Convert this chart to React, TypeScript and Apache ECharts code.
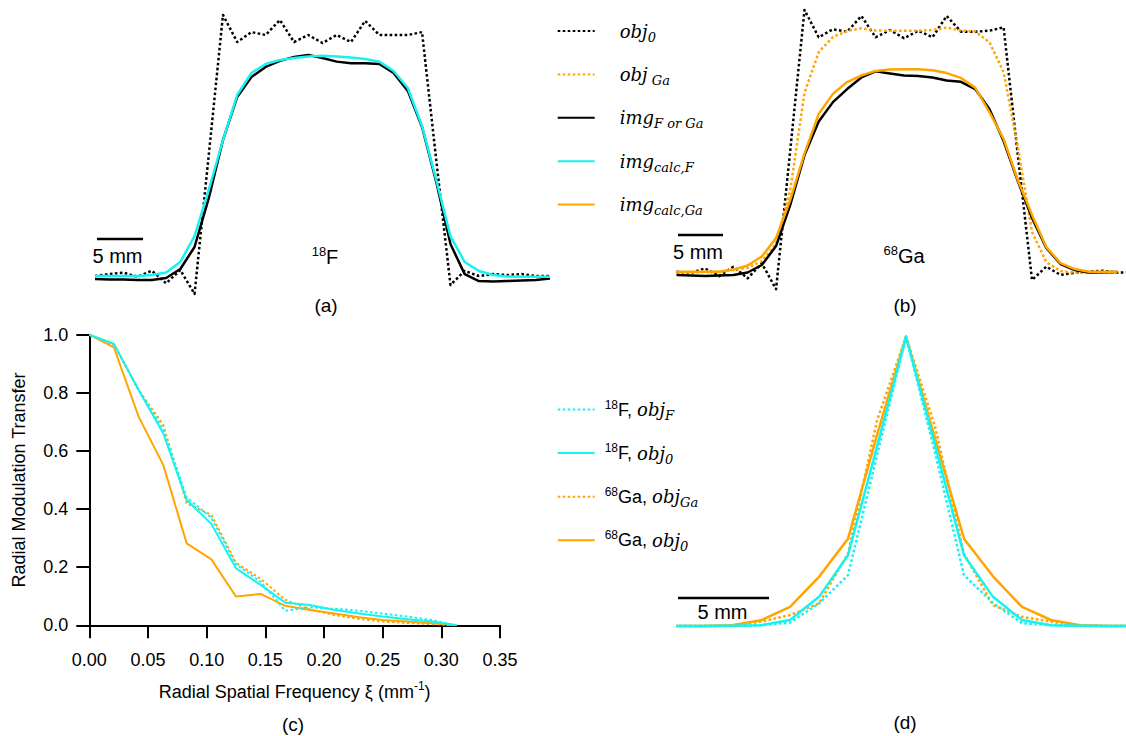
import React, { useEffect, useRef } from "react";
import * as echarts from "echarts";

// ---- Line profiles across the phantom, one value per voxel (panels a, b) ----
const profileObj0F = [0.004, 0.012, 0.018, 0.001, 0.026, -0.026, 0.029, -0.07, 0.504, 1.083, 0.971, 1.012, 1.0, 1.062, 0.971, 1.0, 0.967, 1.0, 0.971, 1.058, 1.0, 1.0, 1.0, 1.012, 0.483, -0.033, 0.025, 0.004, 0.012, 0.008, 0.012, 0.004, 0.004];
const profileImgF = [-0.008, -0.01, -0.01, -0.012, -0.012, -0.004, 0.033, 0.124, 0.326, 0.566, 0.744, 0.826, 0.868, 0.893, 0.909, 0.917, 0.905, 0.89, 0.883, 0.883, 0.88, 0.843, 0.769, 0.62, 0.393, 0.136, 0.012, -0.017, -0.019, -0.017, -0.014, -0.012, -0.006];
const profileCalcF = [0.004, 0.004, 0.004, 0.004, 0.008, 0.019, 0.062, 0.169, 0.36, 0.566, 0.752, 0.843, 0.88, 0.897, 0.905, 0.911, 0.914, 0.911, 0.907, 0.901, 0.89, 0.851, 0.781, 0.624, 0.401, 0.169, 0.062, 0.025, 0.008, 0.002, 0.001, 0.001, 0.001];

const profileObj0Ga = [0.001, -0.004, 0.015, -0.017, 0.022, -0.026, 0.036, -0.071, 0.504, 1.083, 0.97, 1.003, 0.993, 1.058, 0.97, 1.0, 0.966, 0.997, 0.97, 1.058, 0.993, 0.993, 0.997, 1.011, 0.483, -0.033, 0.022, -0.012, -0.003, 0.001, 0.005, -0.003, 0.0];
const profileObjGa = [-0.003, -0.002, 0.0, 0.001, 0.008, 0.017, 0.045, 0.116, 0.339, 0.74, 0.909, 0.971, 0.996, 1.007, 0.998, 0.997, 0.997, 0.997, 1.0, 1.01, 0.998, 0.994, 0.95, 0.826, 0.517, 0.165, 0.041, 0.004, -0.003, -0.003, -0.003, -0.003];
const profileImgGa = [-0.012, -0.014, -0.017, -0.014, -0.012, -0.002, 0.029, 0.107, 0.277, 0.483, 0.622, 0.702, 0.756, 0.804, 0.829, 0.82, 0.812, 0.81, 0.804, 0.791, 0.786, 0.756, 0.674, 0.541, 0.376, 0.223, 0.099, 0.033, 0.008, -0.002, -0.001, 0.0];
const profileCalcGa = [0.001, 0.001, 0.001, 0.001, 0.01, 0.027, 0.064, 0.14, 0.298, 0.49, 0.653, 0.736, 0.785, 0.812, 0.831, 0.837, 0.838, 0.838, 0.834, 0.822, 0.802, 0.762, 0.661, 0.55, 0.38, 0.236, 0.103, 0.037, 0.012, 0.001, 0.001, 0.001];

// ---- Radial modulation transfer (panel c) ----
const mtfFreq = [0, 0.021, 0.042, 0.063, 0.083, 0.104, 0.125, 0.146, 0.167, 0.188, 0.209, 0.23, 0.25, 0.271, 0.292, 0.313];
const mtfF_objF = [1.0, 0.968, 0.81, 0.675, 0.44, 0.37, 0.21, 0.15, 0.05, 0.062, 0.057, 0.05, 0.04, 0.03, 0.018, 0.0];
const mtfF_obj0 = [1.0, 0.968, 0.81, 0.661, 0.431, 0.349, 0.196, 0.139, 0.078, 0.07, 0.053, 0.041, 0.03, 0.021, 0.013, 0.0];
const mtfGa_objGa = [1.0, 0.965, 0.81, 0.69, 0.42, 0.38, 0.215, 0.16, 0.088, 0.055, 0.035, 0.022, 0.013, 0.008, 0.004, 0.0];
const mtfGa_obj0 = [1.0, 0.956, 0.718, 0.552, 0.282, 0.227, 0.099, 0.108, 0.067, 0.053, 0.041, 0.028, 0.018, 0.013, 0.007, 0.0];

// ---- Point spread profiles, voxel offset from the centre (panel d) ----
const psfX = [-8, -7, -6, -5, -4, -3, -2, -1, 0, 1, 2, 3, 4, 5, 6, 7, 8];
const psfF_objF = [0, 0, 0, 0.003, 0.012, 0.078, 0.176, 0.59, 1.0, 0.6, 0.176, 0.08, 0.01, 0.003, 0, 0, 0];
const psfF_obj0 = [0, 0, 0.001, 0.003, 0.021, 0.101, 0.245, 0.62, 1.0, 0.626, 0.245, 0.101, 0.021, 0.003, 0.001, 0, 0];
const psfGa_objGa = [0, 0, 0.002, 0.015, 0.038, 0.078, 0.25, 0.71, 1.0, 0.69, 0.25, 0.072, 0.032, 0.015, 0.002, 0, 0];
const psfGa_obj0 = [0, 0, 0.003, 0.02, 0.066, 0.17, 0.302, 0.66, 1.0, 0.65, 0.302, 0.172, 0.066, 0.021, 0.003, 0, 0];

const CYAN = "#16F2F2";
const ORANGE = "#FFA500";
const BLACK = "#000000";
const SANS = "'Liberation Sans', Arial, sans-serif";
const SERIF = "'DejaVu Serif', serif";
const DOT = [2.6, 2.4];

const legendTopNames = ["obj0", "objGa", "img", "imgCalcF", "imgCalcGa"];
const legendTopText: Record<string, string> = {
  obj0: "{gap| }{m|obj}{s|0}",
  objGa: "{gap| }{m|obj}{s| Ga}",
  img: "{gap| }{m|img}{s|F or Ga}",
  imgCalcF: "{gap| }{m|img}{s|calc,F}",
  imgCalcGa: "{gap| }{m|img}{s|calc,Ga}",
};
const legendMidNames = ["F18_objF", "F18_obj0", "Ga68_objGa", "Ga68_obj0"];
const legendMidText: Record<string, string> = {
  F18_objF: "{gap2| }{sup|18}{n|F, }{m|obj}{s|F}",
  F18_obj0: "{gap2| }{sup|18}{n|F, }{m|obj}{s|0}",
  Ga68_objGa: "{gap2| }{sup|68}{n|Ga, }{m|obj}{s|Ga}",
  Ga68_obj0: "{gap2| }{sup|68}{n|Ga, }{m|obj}{s|0}",
};

const rich = {
  gap: { width: 20, fontSize: 12, lineHeight: 24 },
  gap2: { width: 5, fontSize: 12, lineHeight: 24 },
  m: { fontFamily: SERIF, fontStyle: "italic", fontSize: 18, lineHeight: 24, color: BLACK },
  s: { fontFamily: SERIF, fontStyle: "italic", fontSize: 13, lineHeight: 12, padding: [12, 0, 0, 0], color: BLACK },
  sup: { fontFamily: SANS, fontSize: 12, lineHeight: 14, padding: [0, 0, 10, 0], color: BLACK },
  n: { fontFamily: SANS, fontSize: 18, lineHeight: 24, color: BLACK },
};

const series = (
  name: string,
  xs: number[],
  ys: number[],
  color: string,
  dotted: boolean,
  axis: number,
  width: number
) => ({
  type: "line",
  name,
  xAxisIndex: axis,
  yAxisIndex: axis,
  data: ys.map((v, i) => [xs[i], v]),
  symbol: "none",
  showSymbol: false,
  silent: true,
  clip: true,
  itemStyle: { color },
  lineStyle: { color, width, type: dotted ? DOT : "solid", cap: "butt", join: "round" },
  emphasis: { disabled: true },
});

const idx = (arr: number[]) => arr.map((_, i) => i);

const hiddenX = (gridIndex: number, min: number, max: number) => ({
  type: "value", gridIndex, min, max, show: false,
});
const hiddenY = (gridIndex: number) => ({
  type: "value", gridIndex, min: -0.1, max: 1.1, show: false,
});

const textEl = (text: string, x: number, y: number, size = 19) => ({
  type: "text",
  x,
  y,
  silent: true,
  style: {
    text,
    x: 0,
    y: 0,
    fill: BLACK,
    font: `${size}px ${SANS}`,
    align: "center",
    verticalAlign: "middle",
  },
});

const richEl = (text: string, x: number, y: number) => ({
  type: "text",
  x,
  y,
  silent: true,
  style: {
    text,
    align: "center",
    verticalAlign: "middle",
    rich: {
      sup: { fontFamily: SANS, fontSize: 13, lineHeight: 14, padding: [0, 0, 12, 0], fill: BLACK, color: BLACK },
      n: { fontFamily: SANS, fontSize: 20, lineHeight: 26, fill: BLACK, color: BLACK },
    },
  },
});

const scaleBar = (x1: number, x2: number, y: number) => ({
  type: "line",
  silent: true,
  shape: { x1, y1: y, x2, y2: y },
  style: { stroke: BLACK, lineWidth: 2.5 },
});

const legendBase = {
  orient: "vertical",
  left: 556.7,
  padding: 0,
  itemWidth: 37,
  itemHeight: 14,
  selectedMode: false,
  // line-only keys: hide the marker drawn in the middle of each key
  itemStyle: { opacity: 0, color: "transparent", borderWidth: 0 },
  textStyle: { color: BLACK, rich },
};

export default function App() {
  const ref = useRef<HTMLDivElement>(null);

  useEffect(() => {
    if (!ref.current) return;
    const chart = echarts.init(ref.current, null, { renderer: "svg" });
    const axisLineStyle = { color: BLACK, width: 2 };
    chart.setOption({
      animation: false,
      backgroundColor: "#ffffff",
      grid: [
        { left: 95, top: 10.8, width: 455, height: 290.4, outerBoundsMode: "none" },
        { left: 676.5, top: 5.8, width: 449.4, height: 290.4, outerBoundsMode: "none" },
        { left: 89.3, top: 334.7, width: 410.7, height: 290.6, outerBoundsMode: "none" },
        { left: 678, top: 307.8, width: 448, height: 347.2, outerBoundsMode: "none" },
      ],
      xAxis: [
        hiddenX(0, 0, 32),
        hiddenX(1, 0, 31.6),
        {
          type: "value",
          gridIndex: 2,
          min: 0,
          max: 0.35,
          interval: 0.05,
          axisLine: { show: true, onZero: false, lineStyle: axisLineStyle },
          axisTick: { show: true, inside: false, length: 13, lineStyle: axisLineStyle },
          splitLine: { show: false },
          axisLabel: {
            color: BLACK,
            fontSize: 18,
            fontFamily: SANS,
            margin: 26,
            formatter: (v: number) => v.toFixed(2),
          },
          name: "Radial Spatial Frequency ξ (mm{sup|-1})",
          nameLocation: "middle",
          nameGap: 55,
          nameTextStyle: {
            color: BLACK,
            fontSize: 18,
            fontFamily: SANS,
            lineHeight: 24,
            rich: {
              sup: { fontSize: 12, fontFamily: SANS, color: BLACK, lineHeight: 12, padding: [0, 0, 12, 0] },
            },
          },
        },
        hiddenX(3, -7.862, 7.586),
      ],
      yAxis: [
        hiddenY(0),
        hiddenY(1),
        {
          type: "value",
          gridIndex: 2,
          min: 0,
          max: 1,
          interval: 0.2,
          axisLine: { show: true, onZero: false, lineStyle: axisLineStyle },
          axisTick: { show: true, inside: false, length: 13, lineStyle: axisLineStyle },
          splitLine: { show: false },
          axisLabel: {
            color: BLACK,
            fontSize: 18,
            fontFamily: SANS,
            margin: 21,
            formatter: (v: number) => v.toFixed(1),
          },
          name: "Radial Modulation Transfer",
          nameLocation: "middle",
          nameGap: 61,
          nameTextStyle: { color: BLACK, fontSize: 18, fontFamily: SANS },
        },
        hiddenY(3),
      ],
      legend: [
        {
          ...legendBase,
          top: 18.5,
          itemGap: 18.4,
          data: legendTopNames,
          formatter: (n: string) => legendTopText[n],
        },
        {
          ...legendBase,
          top: 397,
          itemGap: 18.6,
          data: legendMidNames,
          formatter: (n: string) => legendMidText[n],
        },
      ],
      series: [
        // (a) 18F profiles
        series("obj0", idx(profileObj0F), profileObj0F, BLACK, true, 0, 2.5),
        series("img", idx(profileImgF), profileImgF, BLACK, false, 0, 2.5),
        series("imgCalcF", idx(profileCalcF), profileCalcF, CYAN, false, 0, 2.5),
        // (b) 68Ga profiles
        series("obj0", idx(profileObj0Ga), profileObj0Ga, BLACK, true, 1, 2.5),
        series("objGa", idx(profileObjGa), profileObjGa, ORANGE, true, 1, 2.5),
        series("img", idx(profileImgGa), profileImgGa, BLACK, false, 1, 2.5),
        series("imgCalcGa", idx(profileCalcGa), profileCalcGa, ORANGE, false, 1, 2.5),
        // (c) modulation transfer
        series("Ga68_obj0", mtfFreq, mtfGa_obj0, ORANGE, false, 2, 2),
        series("Ga68_objGa", mtfFreq, mtfGa_objGa, ORANGE, true, 2, 2),
        series("F18_obj0", mtfFreq, mtfF_obj0, CYAN, false, 2, 2),
        series("F18_objF", mtfFreq, mtfF_objF, CYAN, true, 2, 2),
        // (d) point spread
        series("Ga68_obj0", psfX, psfGa_obj0, ORANGE, false, 3, 2.5),
        series("Ga68_objGa", psfX, psfGa_objGa, ORANGE, true, 3, 2.5),
        series("F18_objF", psfX, psfF_objF, CYAN, true, 3, 2.5),
        series("F18_obj0", psfX, psfF_obj0, CYAN, false, 3, 2.5),
      ],
      graphic: [
        scaleBar(97, 143, 239),
        textEl("5 mm", 117.5, 256, 20),
        richEl("{sup|18}{n|F}", 325, 257),
        textEl("(a)", 326, 305),
        scaleBar(678, 723, 235),
        textEl("5 mm", 698, 252, 20),
        richEl("{sup|68}{n|Ga}", 904, 256),
        textEl("(b)", 905, 305),
        textEl("(c)", 293, 724),
        scaleBar(678, 769, 598),
        textEl("5 mm", 722.5, 612, 20),
        textEl("(d)", 905, 722),
      ],
    });
    return () => chart.dispose();
  }, []);

  return (
    <div
      ref={ref}
      style={{ position: "fixed", left: 0, top: 0, width: 1126, height: 736, background: "#fff" }}
    />
  );
}
